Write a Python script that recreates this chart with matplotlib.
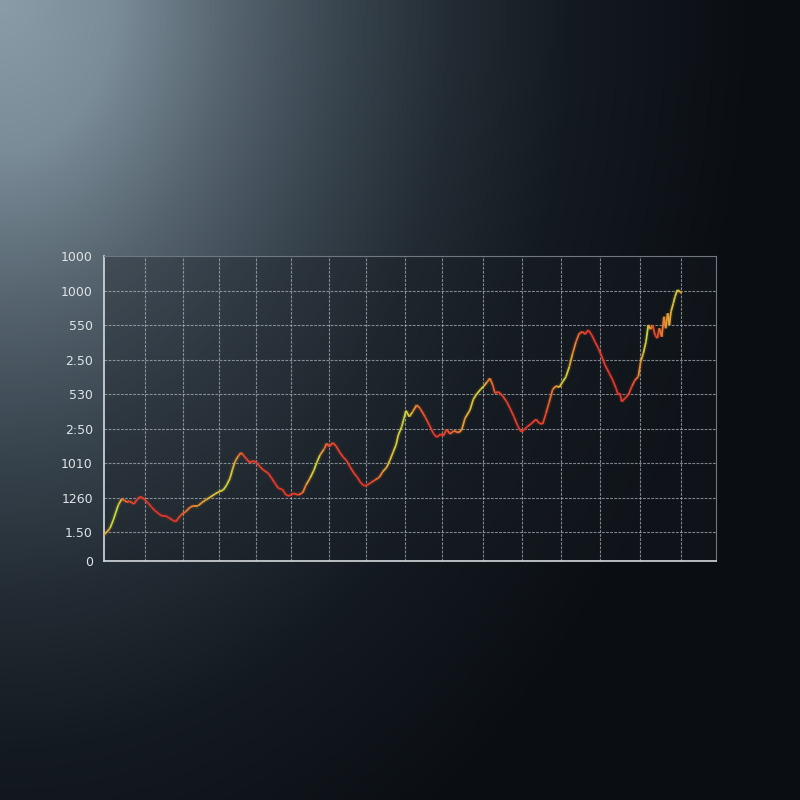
import matplotlib
matplotlib.use('Agg')
import matplotlib.pyplot as plt
import numpy as np
from matplotlib.collections import LineCollection
from matplotlib.colors import LinearSegmentedColormap

# series (x = time step, y = level)
x_vals = [0, 6, 9.3, 14.3, 17.7, 20.3, 22.7, 25.3, 27.7, 30, 32.7, 36, 38.3, 41, 44.3, 47.7,
          51, 54.3, 57.7, 61, 64.3, 68.3, 71.7, 74.3, 77.7, 81.7, 86, 90, 94.3, 97.7, 101.7,
          106, 111, 115, 119.3, 122.7, 126, 128.3, 131, 134.3, 137, 139.3, 142.7, 146, 149.3,
          152.7, 156, 159.3, 164.3, 167.7, 171, 174.3, 178.3, 182, 185.3, 189.3, 194.3, 198.7,
          202, 206, 210, 212.7, 216, 220, 222.7, 225.3, 228.7, 232, 235.3, 239.3, 242.7, 246,
          250, 253.3, 256.7, 260.3, 263.3, 266.7, 271, 275.3, 278.7, 282.7, 286, 289.3, 292,
          294.3, 297.7, 300, 302, 305.3, 308.7, 312.7, 316, 321, 325.3, 329.3, 332.7, 336.7,
          339.3, 342.7, 346, 350, 354.3, 357.7, 361, 366, 369.3, 372.7, 376.7, 380, 383.3, 386,
          388.7, 391, 394.3, 398.7, 402.7, 406, 410, 413.3, 417, 420, 423.3, 427.7, 432, 435.3,
          438.7, 442, 445.3, 448.7, 452, 455.3, 458.7, 462, 465.3, 468.7, 472, 475.3, 478.7,
          481, 484.3, 487.7, 491, 494.3, 497.7, 501, 505.3, 508.7, 512, 514.3, 516, 517.7, 521,
          524.3, 527.7, 531, 534.3, 536.7, 539.3, 542, 544.3, 546.7, 548.7, 551, 553.3, 555.3,
          557.7, 560, 561.7, 563.7, 565.3, 567, 569.3, 571, 573.3, 576, 577.7]
y_vals = [26, 32.7, 41, 56, 62, 61, 58.7, 60, 58.3, 57, 61, 64.3, 63.7, 61, 57.7, 53.7,
          50.3, 47.7, 45, 45.3, 43.7, 41, 39.3, 42.7, 46.7, 49.3, 53.7, 55.3, 55.3, 58.3, 61,
          63.7, 67, 69.3, 71, 76, 82.7, 91, 99.3, 105, 108.3, 106, 101.7, 98.3, 100.3,
          98.3, 94.3, 91, 87.7, 82.7, 77.7, 72.7, 71.7, 66, 65, 67.7, 66, 68.3,
          76, 82.7, 91, 98.3, 106, 111.7, 117.7, 114.3, 118.3, 115, 109.3, 103.7, 100.3, 94.3,
          87.7, 83.7, 78.3, 75, 76, 78.3, 81, 83.7, 89.3, 93.7, 101, 109.3, 116,
          126, 134.3, 142.7, 150.3, 144.3, 149.3, 156, 152.7, 144.3, 136, 127.7, 123.7, 127,
          125, 131.7, 127, 130.3, 128.3, 131, 142.7, 151, 161.7, 167, 171.7, 175, 179.3, 182.7,
          176, 167.7, 169.3, 165, 159.3, 152.7, 144.3, 136, 129.3, 131, 134.3, 137.7, 141.7, 137.7,
          137, 147.7, 159.3, 171.7, 175, 173.7, 179.3, 184.3, 194.3, 207.7, 219.3, 227.7, 229.3,
          226.7, 231, 226, 219.3, 212.7, 205, 196, 187.7, 181, 172.7, 166, 167.7, 159.3, 162.7,
          166, 174.3, 181, 184.3, 199.3, 207.7, 219.3, 236, 231.7, 236, 226, 222.7, 232.7,
          224.3, 244.3, 232.7, 247.7, 236, 249.3, 257.7, 264.3, 271, 269.3, 267.7]

y_ticks = [0, 29, 63, 98, 132, 167, 201, 236, 270, 305]
y_labels = ['0', '1.50', '1260', '1010', '2:50', '530', '2.50', '550', '1000', '1000']
x_grid = [41, 79, 115, 152, 187, 225, 262, 301, 338, 379, 418, 457, 496, 536, 577]

# line tint along x: 0 = red, 1 = yellow-green
tint_x = [0, 6, 14, 18, 26, 41, 71, 81, 121, 128, 141, 186, 196, 212, 224, 261, 281, 301,
          316, 331, 356, 376, 391, 416, 441, 461, 471, 486, 516, 531, 543, 552, 556, 574, 578]
tint_v = [0.5, 0.9, 1.0, 0.55, 0.35, 0.1, 0.1, 0.5, 0.9, 0.8, 0.3, 0.1, 0.4, 0.95, 0.35,
          0.1, 0.7, 0.95, 0.45, 0.1, 0.6, 0.9, 0.35, 0.1, 0.3, 0.9, 0.55, 0.15, 0.1, 0.4,
          0.95, 0.15, 0.5, 0.9, 0.5]

fig = plt.figure(figsize=(8, 8), dpi=100)

# background glow from the top-left corner
bg = fig.add_axes([0, 0, 1, 1])
bg.axis('off')
yy, xx = np.mgrid[0:1:400j, 0:1:400j]
r = np.sqrt((xx * 1.05) ** 2 + (yy * 0.8) ** 2)
bg_cmap = LinearSegmentedColormap.from_list(
    'bg', [(0, '#8a9ca8'), (0.15, '#7a8c98'), (0.3, '#56646f'), (0.45, '#38444e'),
           (0.6, '#222b33'), (0.75, '#141a21'), (1, '#0a0e13')])
bg.imshow(np.clip(r, 0, 1), cmap=bg_cmap, extent=[0, 1, 0, 1],
          origin='upper', aspect='auto', interpolation='bilinear')
bg.set_xlim(0, 1)
bg.set_ylim(0, 1)

ax = fig.add_axes([0.13, 0.29875, 0.765, 0.38125])
ax.set_facecolor((0.10, 0.12, 0.15, 0.35))
ax.set_xlim(0, 612)
ax.set_ylim(0, 305)

# grid
for gx in x_grid:
    ax.axvline(gx, color='#b9c1c7', lw=0.8, ls=(0, (2.5, 1.2)), alpha=0.65, zorder=1)
for gy in y_ticks[1:-1]:
    ax.axhline(gy, color='#b9c1c7', lw=0.8, ls=(0, (2.5, 1.2)), alpha=0.65, zorder=1)

# the line, tinted red -> orange -> yellow-green
x = np.array(x_vals)
y = np.array(y_vals)
line_cmap = LinearSegmentedColormap.from_list(
    'rg', [(0, '#e22f2a'), (0.3, '#e8442b'), (0.55, '#f07a2e'), (0.8, '#dcc438'), (1, '#c2dc3a')])
pts = np.array([x, y]).T.reshape(-1, 1, 2)
segs = np.concatenate([pts[:-1], pts[1:]], axis=1)
cseg = np.interp((x[:-1] + x[1:]) / 2, tint_x, tint_v)
glow = LineCollection(segs, cmap=line_cmap, linewidths=3.5, alpha=0.12, zorder=2)
glow.set_array(cseg)
glow.set_clim(0, 1)
ax.add_collection(glow)
lc = LineCollection(segs, cmap=line_cmap, linewidths=1.3, zorder=3)
lc.set_array(cseg)
lc.set_clim(0, 1)
ax.add_collection(lc)

ax.set_xticks([])
ax.set_yticks(y_ticks)
ax.set_yticklabels(y_labels, color='#dfe3e6', fontsize=9)
ax.tick_params(axis='y', length=0, pad=8)

for side in ['left', 'bottom']:
    ax.spines[side].set_color('#d5dade')
    ax.spines[side].set_linewidth(1.2)
for side in ['top', 'right']:
    ax.spines[side].set_color('#6f7880')
    ax.spines[side].set_linewidth(0.8)

fig.savefig('out.png', dpi=100)
